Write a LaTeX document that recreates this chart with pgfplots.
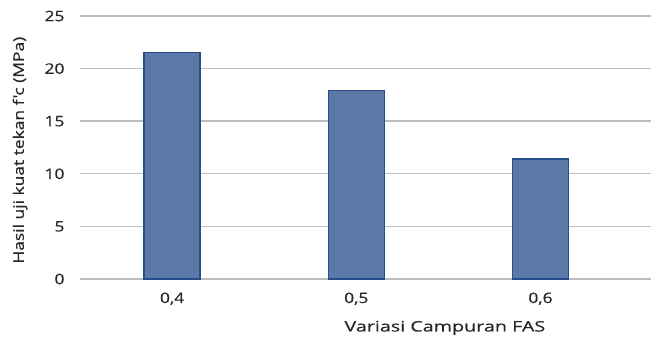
\documentclass[border=0pt]{standalone}
\usepackage{pgfplots}
\pgfplotsset{compat=1.18}
\usepackage{fontspec}
\setmainfont{Open Sans}
\newfontfamily\widefont[FakeStretch=1.2,FakeBold=0.5]{Open Sans}
\newfontfamily\widerfont[FakeStretch=1.36,FakeBold=0.5]{Open Sans}
\definecolor{barfill}{RGB}{91,120,167}
\definecolor{barline}{RGB}{38,78,140}
\definecolor{gridgray}{RGB}{190,190,190}
\begin{document}
\begin{tikzpicture}[x=1pt,y=1pt]
\path[use as bounding box] (0,0) rectangle (651,340);
\begin{axis}[
  at={(80pt,61pt)}, anchor=south west,
  scale only axis,
  width=571pt, height=263pt,
  ybar, bar width=56pt,
  ymin=0, ymax=25, ytick={0,5,...,25},
  xmin=-0.5, xmax=2.6,
  xtick={0,1,2}, xticklabels={{0,4},{0,5},{0,6}},
  axis line style={draw=none},
  major tick length=0pt,
  ymajorgrids, grid style={gridgray, line width=1.4pt},
  /pgf/number format/assume math mode=true,
  tick label style={font=\widefont\fontsize{14.5}{17}\selectfont, text=black!85},
  yticklabel style={xshift=-12pt},
  xticklabel style={yshift=-10pt},
  ylabel={Hasil uji kuat tekan f'c (MPa)},
  ylabel style={font=\widefont\fontsize{14.5}{17}\selectfont, text=black!85, at={(axis description cs:-0.105,0.49)}, anchor=center},
  xlabel={Variasi Campuran FAS},
  xlabel style={font=\widerfont\fontsize{14.5}{17}\selectfont, text=black!85, at={(axis description cs:0.639,-0.186)}, anchor=center},
  clip=false,
]
\addplot[fill=barfill, draw=barline, line width=1.2pt] coordinates {(0,21.5) (1,17.9) (2,11.4)};
\end{axis}
\end{tikzpicture}
\end{document}
